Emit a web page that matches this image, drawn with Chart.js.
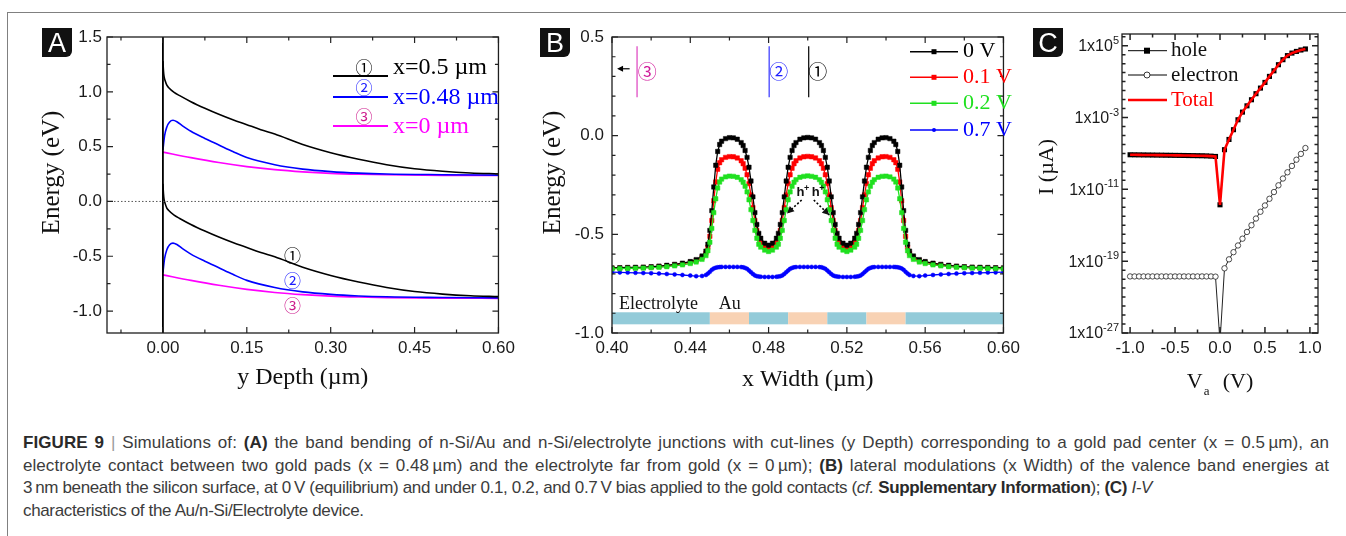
<!DOCTYPE html>
<html>
<head>
<meta charset="utf-8">
<script src="https://cdn.jsdelivr.net/npm/chart.js@4.4.1/dist/chart.umd.min.js"></script>
<style>
  body { margin: 0; background: #fff; width: 1346px; height: 536px; overflow: hidden; position: relative; }
  canvas { position: absolute; top: 0; }
  #frame { position: absolute; left: 7px; top: 12px; width: 1400px; height: 600px; border-left: 1px solid #808080; border-top: 1px solid #808080; }
  .tag { position: absolute; top: 28px; width: 30px; height: 29px; background: #111; color: #fff; border-radius: 0 0 6px 0;
         font: 27px "Liberation Sans", Arial, sans-serif; line-height: 30px; text-align: center; }
  #cap { position: absolute; left: 23px; top: 432px; width: 1306px; font: 17px/22.7px "Liberation Sans", Arial, sans-serif; letter-spacing: -0.35px; color: #3c3c3c; }
  #cap div { white-space: nowrap; }
  #cap .just { text-align: justify; text-align-last: justify; }
  #cap b { color: #2a2a2a; }
  #cap .bar { color: #9a9a9a; }
</style>
</head>
<body>
<div id="frame"></div>
<canvas id="chartA" width="520" height="400" style="left:0px"></canvas>
<canvas id="chartB" width="505" height="400" style="left:520px"></canvas>
<canvas id="chartC" width="321" height="400" style="left:1025px"></canvas>
<div class="tag" style="left:42px">A</div>
<div class="tag" style="left:540px">B</div>
<div class="tag" style="left:1033px">C</div>
<div id="cap">
  <div class="j"><span><b>FIGURE 9</b> <span class="bar">|</span> Simulations of: <b>(A)</b> the band bending of n-Si/Au and n-Si/electrolyte junctions with cut-lines (y Depth) corresponding to a gold pad center (x = 0.5&#8201;µm), an</span></div>
  <div class="j"><span>electrolyte contact between two gold pads (x = 0.48&#8201;µm) and the electrolyte far from gold (x = 0&#8201;µm); <b>(B)</b> lateral modulations (x Width) of the valence band energies at</span></div>
  <div>3&#8201;nm beneath the silicon surface, at 0&#8201;V (equilibrium) and under 0.1, 0.2, and 0.7&#8201;V bias applied to the gold contacts (<i>cf.</i> <b>Supplementary Information</b>); <b>(C)</b> <i>I-V</i></div>
  <div>characteristics of the Au/n-Si/Electrolyte device.</div>
</div>
<script>
// ---------- Panel A: band edges along y Depth (cut-lines) ----------
const depthA1 = [0, 0.001, 0.002, 0.004, 0.007, 0.01, 0.02, 0.03, 0.05, 0.075, 0.1, 0.125, 0.15, 0.175, 0.2, 0.25, 0.3, 0.35, 0.4, 0.45, 0.5, 0.55, 0.6];
const cbA1 = [1.28, 1.19, 1.14, 1.10, 1.06, 1.04, 0.995, 0.965, 0.91, 0.85, 0.795, 0.745, 0.70, 0.655, 0.615, 0.52, 0.445, 0.385, 0.335, 0.298, 0.275, 0.26, 0.252];
const vbA1 = [0.16, 0.07, 0.02, -0.02, -0.06, -0.08, -0.125, -0.155, -0.21, -0.27, -0.325, -0.375, -0.42, -0.465, -0.505, -0.60, -0.675, -0.735, -0.785, -0.822, -0.845, -0.86, -0.868];

const depthA2 = [0, 0.003, 0.007, 0.012, 0.018, 0.025, 0.035, 0.05, 0.075, 0.1, 0.125, 0.15, 0.2, 0.25, 0.3, 0.35, 0.4, 0.5, 0.6];
const cbA2 = [0.47, 0.60, 0.68, 0.725, 0.74, 0.727, 0.69, 0.64, 0.575, 0.515, 0.455, 0.40, 0.335, 0.295, 0.272, 0.258, 0.25, 0.244, 0.24];
const vbA2 = [-0.65, -0.52, -0.44, -0.395, -0.38, -0.393, -0.43, -0.48, -0.545, -0.605, -0.665, -0.72, -0.785, -0.825, -0.848, -0.862, -0.87, -0.876, -0.88];

const depthA3 = [0, 0.05, 0.1, 0.15, 0.2, 0.25, 0.3, 0.35, 0.4, 0.5, 0.6];
const cbA3 = [0.45, 0.40, 0.355, 0.318, 0.29, 0.27, 0.256, 0.248, 0.243, 0.238, 0.236];
const vbA3 = [-0.67, -0.72, -0.765, -0.802, -0.83, -0.85, -0.864, -0.872, -0.877, -0.882, -0.884];

const surfaceDepth = [0, 0];
const surfaceEnergy = [1.5, -1.2];
const fermiDepth = [-0.1, 0.6];
const fermiEnergy = [0, 0];

const legendA = ['x=0.5 µm', 'x=0.48 µm', 'x=0 µm'];
const depthTicks = [0, 0.15, 0.30, 0.45, 0.60];
const depthMinor = [-0.075, 0.075, 0.225, 0.375, 0.525];
const energyTicksA = [-1.0, -0.5, 0.0, 0.5, 1.0, 1.5];
const energyMinorA = [-0.75, -0.25, 0.25, 0.75, 1.25];

// ---------- Panel B: valence band along x Width at 3 nm ----------
const xWidth = [
  0.400, 0.404, 0.408, 0.412, 0.416, 0.420, 0.424, 0.428, 0.432, 0.436, 0.440, 0.443, 0.446,
  0.448, 0.449, 0.450, 0.451, 0.452, 0.453, 0.454, 0.455, 0.456,
  0.458, 0.460, 0.462, 0.464,
  0.466, 0.467, 0.468, 0.469, 0.470, 0.471, 0.472, 0.473, 0.474, 0.475, 0.476,
  0.478, 0.480, 0.482,
  0.484, 0.485, 0.486, 0.487, 0.488, 0.489, 0.490, 0.491, 0.492, 0.493, 0.494,
  0.496, 0.498, 0.500, 0.502, 0.504,
  0.506, 0.507, 0.508, 0.509, 0.510, 0.511, 0.512, 0.513, 0.514, 0.515, 0.516,
  0.518, 0.520, 0.522,
  0.524, 0.525, 0.526, 0.527, 0.528, 0.529, 0.530, 0.531, 0.532, 0.533, 0.534,
  0.536, 0.538, 0.540, 0.542,
  0.544, 0.545, 0.546, 0.547, 0.548, 0.549, 0.550, 0.551, 0.552,
  0.554, 0.557, 0.560, 0.564, 0.568, 0.572, 0.576, 0.580, 0.584, 0.588, 0.592, 0.596, 0.600
];
const ev0V = [
  -0.670, -0.669, -0.668, -0.667, -0.666, -0.664, -0.661, -0.657, -0.652, -0.646, -0.638, -0.628, -0.610,
  -0.585, -0.55, -0.48, -0.38, -0.26, -0.15, -0.08, -0.045, -0.028,
  -0.015, -0.010, -0.011, -0.018,
  -0.035, -0.05, -0.075, -0.11, -0.16, -0.23, -0.31, -0.39, -0.45, -0.495, -0.52,
  -0.545, -0.555, -0.545,
  -0.52, -0.495, -0.45, -0.39, -0.31, -0.23, -0.16, -0.11, -0.075, -0.05, -0.035,
  -0.018, -0.011, -0.009, -0.011, -0.018,
  -0.035, -0.05, -0.075, -0.11, -0.16, -0.23, -0.31, -0.39, -0.45, -0.495, -0.52,
  -0.545, -0.555, -0.545,
  -0.52, -0.495, -0.45, -0.39, -0.31, -0.23, -0.16, -0.11, -0.075, -0.05, -0.035,
  -0.018, -0.011, -0.010, -0.015,
  -0.028, -0.045, -0.08, -0.15, -0.26, -0.38, -0.48, -0.55, -0.585,
  -0.610, -0.628, -0.638, -0.646, -0.652, -0.657, -0.661, -0.664, -0.666, -0.667, -0.668, -0.669, -0.670
];
const ev01V = [
  -0.672, -0.671, -0.670, -0.669, -0.668, -0.666, -0.663, -0.660, -0.655, -0.649, -0.642, -0.633, -0.618,
  -0.595, -0.565, -0.51, -0.43, -0.33, -0.235, -0.17, -0.137, -0.122,
  -0.110, -0.106, -0.107, -0.113,
  -0.127, -0.142, -0.165, -0.198, -0.243, -0.30, -0.365, -0.43, -0.48, -0.52, -0.542,
  -0.562, -0.570, -0.562,
  -0.542, -0.52, -0.48, -0.43, -0.365, -0.30, -0.243, -0.198, -0.165, -0.142, -0.127,
  -0.113, -0.107, -0.105, -0.107, -0.113,
  -0.127, -0.142, -0.165, -0.198, -0.243, -0.30, -0.365, -0.43, -0.48, -0.52, -0.542,
  -0.562, -0.570, -0.562,
  -0.542, -0.52, -0.48, -0.43, -0.365, -0.30, -0.243, -0.198, -0.165, -0.142, -0.127,
  -0.113, -0.107, -0.106, -0.110,
  -0.122, -0.137, -0.17, -0.235, -0.33, -0.43, -0.51, -0.565, -0.595,
  -0.618, -0.633, -0.642, -0.649, -0.655, -0.660, -0.663, -0.666, -0.668, -0.669, -0.670, -0.671, -0.672
];
const ev02V = [
  -0.675, -0.674, -0.673, -0.672, -0.671, -0.669, -0.667, -0.664, -0.660, -0.655, -0.648, -0.640, -0.627,
  -0.608, -0.583, -0.54, -0.47, -0.39, -0.32, -0.265, -0.235, -0.22,
  -0.209, -0.205, -0.206, -0.211,
  -0.223, -0.236, -0.256, -0.285, -0.325, -0.375, -0.43, -0.48, -0.52, -0.55, -0.565,
  -0.580, -0.587, -0.580,
  -0.565, -0.55, -0.52, -0.48, -0.43, -0.375, -0.325, -0.285, -0.256, -0.236, -0.223,
  -0.211, -0.206, -0.204, -0.206, -0.211,
  -0.223, -0.236, -0.256, -0.285, -0.325, -0.375, -0.43, -0.48, -0.52, -0.55, -0.565,
  -0.580, -0.587, -0.580,
  -0.565, -0.55, -0.52, -0.48, -0.43, -0.375, -0.325, -0.285, -0.256, -0.236, -0.223,
  -0.211, -0.206, -0.205, -0.209,
  -0.22, -0.235, -0.265, -0.32, -0.39, -0.47, -0.54, -0.583, -0.608,
  -0.627, -0.640, -0.648, -0.655, -0.660, -0.664, -0.667, -0.669, -0.671, -0.672, -0.673, -0.674, -0.675
];
const ev07V = [
  -0.692, -0.693, -0.694, -0.695, -0.696, -0.697, -0.699, -0.701, -0.703, -0.706, -0.709, -0.712, -0.711,
  -0.706, -0.699, -0.690, -0.680, -0.673, -0.669, -0.667, -0.666, -0.665,
  -0.665, -0.665, -0.665, -0.665,
  -0.666, -0.667, -0.670, -0.675, -0.683, -0.692, -0.701, -0.708, -0.712, -0.714, -0.715,
  -0.716, -0.716, -0.716,
  -0.715, -0.714, -0.712, -0.708, -0.701, -0.692, -0.683, -0.675, -0.670, -0.667, -0.666,
  -0.665, -0.665, -0.665, -0.665, -0.665,
  -0.666, -0.667, -0.670, -0.675, -0.683, -0.692, -0.701, -0.708, -0.712, -0.714, -0.715,
  -0.716, -0.716, -0.716,
  -0.715, -0.714, -0.712, -0.708, -0.701, -0.692, -0.683, -0.675, -0.670, -0.667, -0.666,
  -0.665, -0.665, -0.665, -0.665,
  -0.665, -0.666, -0.667, -0.669, -0.673, -0.680, -0.690, -0.699, -0.706,
  -0.711, -0.712, -0.709, -0.706, -0.703, -0.701, -0.699, -0.697, -0.696, -0.695, -0.694, -0.693, -0.692
];
const legendB = ['0 V', '0.1 V', '0.2 V', '0.7 V'];
const stripEdges = [0.40, 0.45, 0.47, 0.49, 0.51, 0.53, 0.55, 0.60];
const stripKinds = ['Electrolyte', 'Au', 'Electrolyte', 'Au', 'Electrolyte', 'Au', 'Electrolyte'];
const widthTicks = [0.40, 0.44, 0.48, 0.52, 0.56, 0.60];
const widthMinor = [0.42, 0.46, 0.50, 0.54, 0.58];
const energyTicksB = [-1.0, -0.5, 0.0, 0.5];
const energyMinorB = [-0.9, -0.8, -0.7, -0.6, -0.4, -0.3, -0.2, -0.1, 0.1, 0.2, 0.3, 0.4];

// ---------- Panel C: I-V ----------
const vApplied = [-1.0, -0.95, -0.9, -0.85, -0.8, -0.75, -0.7, -0.65, -0.6, -0.55, -0.5, -0.45, -0.4, -0.35, -0.3, -0.25, -0.2, -0.15, -0.1, -0.05,
  0.0, 0.05, 0.1, 0.15, 0.2, 0.25, 0.3, 0.35, 0.4, 0.45, 0.5, 0.55, 0.6, 0.65, 0.7, 0.75, 0.8, 0.85, 0.9, 0.95];
const holeCurrent = [7.1e-8, 7.0e-8, 6.9e-8, 6.8e-8, 6.7e-8, 6.6e-8, 6.5e-8, 6.4e-8, 6.3e-8, 6.2e-8, 6.1e-8, 6.0e-8, 5.9e-8, 5.8e-8, 5.7e-8, 5.6e-8, 5.5e-8, 5.3e-8, 5.0e-8, 4.6e-8,
  1.9e-13, 2.6e-7, 3.6e-6, 4.4e-5, 5.6e-4, 4.0e-3, 2.0e-2, 9.5e-2, 0.45, 1.9, 8.1, 38, 160, 760, 2750, 7800, 15000, 23000, 33000, 43000];
const electronCurrent = [2.0e-21, 2.0e-21, 2.0e-21, 2.0e-21, 2.0e-21, 2.0e-21, 2.0e-21, 2.0e-21, 2.0e-21, 2.0e-21, 2.0e-21, 2.0e-21, 2.0e-21, 2.0e-21, 2.0e-21, 2.0e-21, 2.0e-21, 2.0e-21, 2.0e-21, 1.9e-21,
  1e-28, 1.6e-20, 1.6e-19, 1.0e-18, 5.6e-18, 3.2e-17, 1.8e-16, 1.0e-15, 5.6e-15, 3.2e-14, 1.6e-13, 8.9e-13, 5.0e-12, 2.8e-11, 1.6e-10, 7.9e-10, 4.0e-9, 2.0e-8, 8.9e-8, 4.0e-7];
const totalCurrent = [7.1e-8, 7.0e-8, 6.9e-8, 6.8e-8, 6.7e-8, 6.6e-8, 6.5e-8, 6.4e-8, 6.3e-8, 6.2e-8, 6.1e-8, 6.0e-8, 5.9e-8, 5.8e-8, 5.7e-8, 5.6e-8, 5.5e-8, 5.3e-8, 5.0e-8, 4.6e-8,
  1.9e-13, 2.6e-7, 3.6e-6, 4.4e-5, 5.6e-4, 4.0e-3, 2.0e-2, 9.5e-2, 0.45, 1.9, 8.1, 38, 160, 760, 2750, 7800, 15000, 23000, 33000, 43000];
const legendC = ['hole', 'electron', 'Total'];
const voltTicks = [-1.0, -0.5, 0.0, 0.5, 1.0];
const voltMinor = [-0.75, -0.25, 0.25, 0.75];
const currentTicks = [1e-27, 1e-19, 1e-11, 1e-3, 1e5];

// ---------- caption: spread the justified lines partly through letter spacing ----------
document.querySelectorAll('#cap .j').forEach(el => {
  const span = el.firstElementChild;
  const natural = span.getBoundingClientRect().width;
  const n = span.textContent.length;
  const extra = el.clientWidth - natural;
  if (extra > 0) el.style.letterSpacing = (-0.35 + 0.55 * extra / n) + 'px';
  el.classList.add('just');
});

// ---------- helpers ----------
Chart.defaults.font.family = '"Liberation Sans", Arial, sans-serif';
const serif = '"Liberation Serif", "Times New Roman", serif';
const circled = '"Noto Sans CJK JP", "DejaVu Sans", sans-serif';
const tickFont = {family: '"Liberation Sans", Arial, sans-serif', size: 17};
const pts = (xs, ys) => xs.map((x, i) => ({x: x, y: ys[i]}));

function baseScale(extra) {
  return Object.assign({
    grid: {display: false, drawTicks: false},
    border: {display: false},
  }, extra);
}

// inward ticks on all four sides plus the box
function drawBox(chart, t) {
  const {ctx, chartArea: a, scales: {x, y}} = chart;
  ctx.save();
  ctx.strokeStyle = '#222';
  ctx.lineWidth = t.lw || 1.2;
  ctx.beginPath();
  const onX = (vals, len) => vals.forEach(v => {
    const p = x.getPixelForValue(v);
    if (p < a.left - 0.5 || p > a.right + 0.5) return;
    ctx.moveTo(p, a.bottom); ctx.lineTo(p, a.bottom - len);
    ctx.moveTo(p, a.top); ctx.lineTo(p, a.top + len);
  });
  const onY = (vals, len) => vals.forEach(v => {
    const p = y.getPixelForValue(v);
    if (p < a.top - 0.5 || p > a.bottom + 0.5) return;
    ctx.moveTo(a.left, p); ctx.lineTo(a.left + len, p);
    ctx.moveTo(a.right, p); ctx.lineTo(a.right - len, p);
  });
  onX(t.xMajor, 6); onX(t.xMinor, 3.5);
  onY(t.yMajor, 6); onY(t.yMinor, 3.5);
  ctx.stroke();
  ctx.lineWidth = 1.3;
  ctx.strokeStyle = '#1e1e1e';
  ctx.strokeRect(a.left, a.top, a.right - a.left, a.bottom - a.top);
  ctx.restore();
}

function text(ctx, s, x, y, font, color, align) {
  ctx.font = font;
  ctx.fillStyle = color;
  ctx.textAlign = align || 'left';
  ctx.textBaseline = 'middle';
  ctx.fillText(s, x, y);
}

function arrowHead(ctx, x0, y0, x1, y1, len, half) {
  const ang = Math.atan2(y1 - y0, x1 - x0);
  ctx.beginPath();
  ctx.moveTo(x1, y1);
  ctx.lineTo(x1 - len * Math.cos(ang) + half * Math.sin(ang), y1 - len * Math.sin(ang) - half * Math.cos(ang));
  ctx.lineTo(x1 - len * Math.cos(ang) - half * Math.sin(ang), y1 - len * Math.sin(ang) + half * Math.cos(ang));
  ctx.closePath();
  ctx.fill();
}

const common = {
  responsive: false,
  animation: false,
  devicePixelRatio: 1,
  events: [],
  plugins: {legend: {display: false}, tooltip: {enabled: false}},
};

// ---------- Chart A ----------
const colA = ['#000000', '#0000ff', '#ff00ff'];
const numColA = ['#000000', '#1a1aff', '#cc1a8c'];
const curveA = (xs, ys, c) => ({data: pts(xs, ys), borderColor: c, borderWidth: 1.6, pointRadius: 0, showLine: true, cubicInterpolationMode: 'monotone'});

new Chart(document.getElementById('chartA'), {
  type: 'scatter',
  data: {
    datasets: [
      {data: pts(fermiDepth, fermiEnergy), borderColor: '#555', borderWidth: 1, borderDash: [1.5, 2], pointRadius: 0, showLine: true},
      {data: pts(surfaceDepth, surfaceEnergy), borderColor: '#000', borderWidth: 1.8, pointRadius: 0, showLine: true},
      curveA(depthA1, cbA1, colA[0]), curveA(depthA1, vbA1, colA[0]),
      curveA(depthA2, cbA2, colA[1]), curveA(depthA2, vbA2, colA[1]),
      curveA(depthA3, cbA3, colA[2]), curveA(depthA3, vbA3, colA[2]),
    ]
  },
  options: Object.assign({}, common, {
    layout: {padding: {left: 0, top: 37, right: 10, bottom: 0}},
    scales: {
      x: baseScale({
        type: 'linear', min: -0.1, max: 0.6,
        afterBuildTicks: s => { s.ticks = depthTicks.map(v => ({value: v})); },
        afterFit: s => { s.height = 67; },
        ticks: {font: tickFont, color: '#1a1a1a', padding: 5, autoSkip: false, maxRotation: 0, callback: v => v.toFixed(2)},
        title: {display: true, text: 'y Depth (µm)', font: {family: serif, size: 24}, color: '#111', padding: {top: 0, bottom: 8}},
      }),
      y: baseScale({
        type: 'linear', min: -1.2, max: 1.5,
        afterBuildTicks: s => { s.ticks = energyTicksA.map(v => ({value: v})); },
        afterFit: s => { s.width = 107; },
        ticks: {font: tickFont, color: '#1a1a1a', padding: 5, autoSkip: false, callback: v => v.toFixed(1)},
        title: {display: true, text: '\u2002\u2002Energy (eV)', font: {family: serif, size: 25}, color: '#111', padding: {top: 37, bottom: 0}},
      }),
    },
  }),
  plugins: [{
    id: 'decorA',
    afterDraw(chart) {
      const {ctx, chartArea: a, scales: {x, y}} = chart;
      drawBox(chart, {xMajor: depthTicks, xMinor: depthMinor, yMajor: energyTicksA, yMinor: energyMinorA});
      ctx.save();
      const lineY = [76, 97, 126], textY = [68, 98, 127], numY = [68, 88, 117];
      const nums = ['\u2460', '\u2461', '\u2462'];
      legendA.forEach((lab, i) => {
        ctx.strokeStyle = colA[i]; ctx.lineWidth = 1.8;
        ctx.beginPath(); ctx.moveTo(a.left + 226, lineY[i]); ctx.lineTo(a.left + 281, lineY[i]); ctx.stroke();
        text(ctx, nums[i], a.left + 257, numY[i], '17px ' + circled, numColA[i], 'center');
        text(ctx, lab, a.left + 286, textY[i], '24px ' + serif, colA[i]);
      });
      // cut-line tags on the valence band curves
      const tagY = [-0.498, -0.726, -0.947];
      tagY.forEach((v, i) => text(ctx, nums[i], x.getPixelForValue(0.2316), y.getPixelForValue(v), '17px ' + circled, numColA[i], 'center'));
      ctx.restore();
    }
  }]
});

// ---------- Chart B ----------
const colB = ['#000000', '#ff0000', '#20e020', '#0000ff'];
const seriesB = [ev0V, ev01V, ev02V, ev07V];
const orderB = [1, 2, 0, 3];
new Chart(document.getElementById('chartB'), {
  type: 'scatter',
  data: {
    datasets: seriesB.map((s, i) => ({
      label: legendB[i], data: pts(xWidth, s), borderColor: colB[i], backgroundColor: colB[i],
      borderWidth: 1.3, showLine: true, order: orderB[i],
      pointStyle: i === 3 ? 'circle' : 'rect', pointRadius: i === 3 ? 2 : 3.1, pointBorderWidth: 0.5,
    }))
  },
  options: Object.assign({}, common, {
    layout: {padding: {left: 0, top: 37, right: 11, bottom: 0}},
    scales: {
      x: baseScale({
        type: 'linear', min: 0.40, max: 0.60,
        afterBuildTicks: s => { s.ticks = widthTicks.map(v => ({value: v})); },
        afterFit: s => { s.height = 67; },
        ticks: {font: tickFont, color: '#1a1a1a', padding: 5, autoSkip: false, maxRotation: 0, callback: v => v.toFixed(2)},
        title: {display: true, text: 'x Width (µm)', font: {family: serif, size: 24}, color: '#111', padding: {top: 0, bottom: 6}},
      }),
      y: baseScale({
        type: 'linear', min: -1.0, max: 0.5,
        afterBuildTicks: s => { s.ticks = energyTicksB.map(v => ({value: v})); },
        afterFit: s => { s.width = 92; },
        ticks: {font: tickFont, color: '#1a1a1a', padding: 8, autoSkip: false, callback: v => v.toFixed(1)},
        title: {display: true, text: '\u2002\u2002Energy (eV)', font: {family: serif, size: 25}, color: '#111', padding: {top: 18, bottom: 0}},
      }),
    },
  }),
  plugins: [{
    id: 'decorB',
    beforeDatasetsDraw(chart) {
      const {ctx, scales: {x, y}} = chart;
      ctx.save();
      const top = y.getPixelForValue(-0.895), bot = y.getPixelForValue(-0.956);
      stripKinds.forEach((k, i) => {
        ctx.fillStyle = k === 'Au' ? '#f8d2b4' : '#93cbd9';
        const l = x.getPixelForValue(stripEdges[i]), r = x.getPixelForValue(stripEdges[i + 1]);
        ctx.fillRect(l, top, r - l, bot - top);
      });
      text(ctx, 'Electrolyte', x.getPixelForValue(0.4036), y.getPixelForValue(-0.852), '18px ' + serif, '#151515');
      text(ctx, 'Au', x.getPixelForValue(0.4546), y.getPixelForValue(-0.852), '18px ' + serif, '#151515');
      ctx.restore();
    },
    afterDraw(chart) {
      const {ctx, chartArea: a, scales: {x, y}} = chart;
      drawBox(chart, {xMajor: widthTicks, xMinor: widthMinor, yMajor: energyTicksB, yMinor: energyMinorB});
      ctx.save();
      // cut-line positions
      const cuts = [[0.4128, '#dd3fbf', '\u2462', '#d0189a', 0.418], [0.4803, '#3434ff', '\u2461', '#2020ff', 0.4852], [0.5005, '#000', '\u2460', '#000', 0.5051]];
      cuts.forEach(c => {
        const px = x.getPixelForValue(c[0]);
        ctx.strokeStyle = c[1]; ctx.lineWidth = 1.2;
        ctx.beginPath(); ctx.moveTo(px, y.getPixelForValue(0.453)); ctx.lineTo(px, y.getPixelForValue(0.195)); ctx.stroke();
        text(ctx, c[2], x.getPixelForValue(c[4]), y.getPixelForValue(0.326), '19px ' + circled, c[3], 'center');
      });
      // arrow pointing to x = 0
      ctx.strokeStyle = '#000'; ctx.fillStyle = '#000'; ctx.lineWidth = 1.2;
      const ay = y.getPixelForValue(0.339), ax0 = x.getPixelForValue(0.4090), ax1 = x.getPixelForValue(0.4026);
      ctx.beginPath(); ctx.moveTo(ax0, ay); ctx.lineTo(ax1 + 4, ay); ctx.stroke();
      arrowHead(ctx, ax0, ay, ax1, ay, 6, 3);
      // h+ hole drift arrows
      [[0.4942, -0.289], [0.5020, -0.289]].forEach(p => {
        const hx = x.getPixelForValue(p[0]), hy = y.getPixelForValue(p[1]);
        text(ctx, 'h', hx, hy, 'bold 13px "Liberation Sans", Arial', '#111');
        text(ctx, '+', hx + 7.5, hy - 4, 'bold 9px "Liberation Sans", Arial', '#111');
      });
      ctx.setLineDash([2, 2]); ctx.lineWidth = 1.6;
      const arrows = [[0.4969, -0.326, 0.4894, -0.394], [0.5031, -0.326, 0.5110, -0.402]];
      arrows.forEach(r => {
        const x0 = x.getPixelForValue(r[0]), y0 = y.getPixelForValue(r[1]);
        const x1 = x.getPixelForValue(r[2]), y1 = y.getPixelForValue(r[3]);
        ctx.beginPath(); ctx.moveTo(x0, y0); ctx.lineTo(x1, y1); ctx.stroke();
      });
      ctx.setLineDash([]);
      arrows.forEach(r => arrowHead(ctx, x.getPixelForValue(r[0]), y.getPixelForValue(r[1]), x.getPixelForValue(r[2]), y.getPixelForValue(r[3]), 7, 3.5));
      // legend
      const rows = [51.7, 77.3, 103.3, 130];
      legendB.forEach((lab, i) => {
        ctx.strokeStyle = colB[i]; ctx.fillStyle = colB[i]; ctx.lineWidth = 1.4;
        ctx.beginPath(); ctx.moveTo(a.left + 298, rows[i]); ctx.lineTo(a.left + 346, rows[i]); ctx.stroke();
        ctx.beginPath();
        if (i === 3) ctx.arc(a.left + 322, rows[i], 2, 0, Math.PI * 2); else ctx.rect(a.left + 319.5, rows[i] - 2.5, 5, 5);
        ctx.fill();
        text(ctx, lab, a.left + 351, rows[i], '22px ' + serif, colB[i]);
      });
      ctx.restore();
    }
  }]
});

// ---------- Chart C ----------
const currentMinor = [];
for (let e = -26; e <= 6; e++) currentMinor.push(Math.pow(10, e));
new Chart(document.getElementById('chartC'), {
  type: 'scatter',
  data: {
    datasets: [
      {label: legendC[2], data: pts(vApplied, totalCurrent), borderColor: '#ff0000', borderWidth: 2.6, pointRadius: 0, showLine: true},
      {label: legendC[0], data: pts(vApplied, holeCurrent), borderColor: '#000', backgroundColor: '#000', borderWidth: 1, showLine: true, pointStyle: 'rect', pointRadius: 3.6, pointBorderWidth: 0},
      {label: legendC[1], data: pts(vApplied, electronCurrent), borderColor: '#222', backgroundColor: '#fff', borderWidth: 1, showLine: true, pointStyle: 'circle', pointRadius: 2.7, pointBorderWidth: 0.8},
    ]
  },
  options: Object.assign({}, common, {
    layout: {padding: {left: 0, top: 34, right: 28, bottom: 0}},
    scales: {
      x: baseScale({
        type: 'linear', min: -1.09, max: 1.09,
        afterBuildTicks: s => { s.ticks = voltTicks.map(v => ({value: v})); },
        afterFit: s => { s.height = 67; },
        ticks: {font: tickFont, color: '#1a1a1a', padding: 5, autoSkip: false, maxRotation: 0, callback: v => v.toFixed(1)},
        title: {display: false},
      }),
      y: baseScale({
        type: 'logarithmic', min: 1e-27, max: 2e6,
        afterBuildTicks: s => { s.ticks = currentTicks.map(v => ({value: v})); },
        afterFit: s => { s.width = 97; },
        ticks: {display: false},
        title: {display: true, text: '\u2002\u2002\u2002I (µA)', font: {family: serif, size: 22}, color: '#111', padding: {top: 9, bottom: 0}},
      }),
    },
  }),
  plugins: [{
    id: 'decorC',
    afterDraw(chart) {
      const {ctx, chartArea: a, scales: {y}} = chart;
      drawBox(chart, {xMajor: voltTicks, xMinor: voltMinor, yMajor: currentTicks, yMinor: currentMinor, lw: 1.5});
      ctx.save();
      // 1x10^n tick labels
      currentTicks.forEach(v => {
        const p = y.getPixelForValue(v);
        const ex = String(Math.round(Math.log10(v)));
        ctx.font = '16px "Liberation Sans", Arial'; const w1 = ctx.measureText('1x10').width;
        ctx.font = '11px "Liberation Sans", Arial'; const w2 = ctx.measureText(ex).width;
        const x0 = a.left - 3 - w1 - w2;
        text(ctx, '1x10', x0, p + 1, '16px "Liberation Sans", Arial', '#1a1a1a');
        text(ctx, ex, x0 + w1, p - 5, '11px "Liberation Sans", Arial', '#1a1a1a');
      });
      // V_a (V) axis title
      const cx = (a.left + a.right) / 2, ty = 382;
      ctx.font = '22px ' + serif;
      const wV = ctx.measureText('V').width, wP = ctx.measureText('(V)').width;
      const total = wV + 6 + 14 + wP;
      let px = cx - total / 2;
      text(ctx, 'V', px, ty, '22px ' + serif, '#111');
      text(ctx, 'a', px + wV + 1, ty + 10, '13px ' + serif, '#111');
      text(ctx, '(V)', px + wV + 20, ty, '22px ' + serif, '#111');
      // legend
      const rows = [50.7, 75, 100];
      const lx0 = a.left + 6, lx1 = a.left + 45, mx = a.left + 25, tx = a.left + 49;
      ctx.strokeStyle = '#000'; ctx.lineWidth = 1;
      [0, 1].forEach(i => { ctx.beginPath(); ctx.moveTo(lx0, rows[i]); ctx.lineTo(lx1, rows[i]); ctx.stroke(); });
      ctx.fillStyle = '#000'; ctx.fillRect(mx - 3, rows[0] - 3, 6, 6);
      ctx.beginPath(); ctx.arc(mx, rows[1], 3, 0, Math.PI * 2); ctx.fillStyle = '#fff'; ctx.fill(); ctx.strokeStyle = '#222'; ctx.lineWidth = 0.9; ctx.stroke();
      ctx.strokeStyle = '#ff0000'; ctx.lineWidth = 2.4;
      ctx.beginPath(); ctx.moveTo(lx0, rows[2]); ctx.lineTo(lx1, rows[2]); ctx.stroke();
      text(ctx, legendC[0], tx, rows[0], '21px ' + serif, '#111');
      text(ctx, legendC[1], tx, rows[1], '21px ' + serif, '#111');
      text(ctx, legendC[2], tx, rows[2], '21px ' + serif, '#ff0000');
      ctx.restore();
    }
  }]
});
</script>
</body>
</html>
